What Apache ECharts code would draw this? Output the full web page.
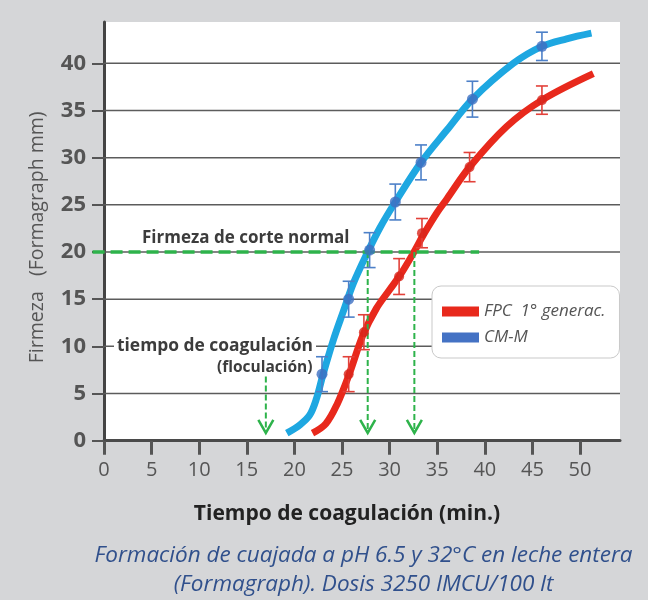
<!DOCTYPE html>
<html>
<head>
<meta charset="utf-8">
<script src="https://cdn.jsdelivr.net/npm/echarts@6/dist/echarts.min.js"></script>
<style>
  html, body { margin: 0; padding: 0; background: #d5d6d8; }
  #chart { width: 648px; height: 600px; }
</style>
</head>
<body>
<div id="chart"></div>
<script>
// ---------- data ----------
const xTicks = [0, 5, 10, 15, 20, 25, 30, 35, 40, 45, 50];
const yTicks = [0, 5, 10, 15, 20, 25, 30, 35, 40];
const gridValues = [5, 10, 15, 20, 25, 30, 35, 40];
const seriesNames = ['FPC  1° generac.', 'CM-M'];

// fitted curves
const redCurveX = [21.9, 23.3, 24.5, 25.7, 27.2, 28.6, 30.0, 31.2, 32.5, 33.6, 35.0, 36.0, 38.4, 42.3, 46.0, 51.4];
const redCurveY = [0.8, 1.8, 3.9, 6.9, 11.2, 14.0, 16.0, 17.7, 19.9, 21.9, 24.2, 25.6, 29.0, 33.3, 36.1, 38.9];
const blueCurveX = [19.2, 20.6, 21.6, 22.3, 23.0, 24.1, 25.1, 26.2, 27.7, 29.0, 30.6, 33.3, 36.0, 38.7, 43.0, 46.0, 48.6, 51.2];
const blueCurveY = [0.8, 1.7, 2.7, 4.4, 7.0, 10.7, 13.6, 16.7, 20.0, 22.6, 25.3, 29.5, 32.9, 36.2, 40.0, 41.8, 42.6, 43.2];

// measured points with error (±)
const redPointX = [25.7, 27.3, 31.0, 33.4, 38.4, 46.0];
const redPointY = [7.05, 11.5, 17.4, 22.0, 29.0, 36.1];
const redPointErr = [1.85, 1.85, 1.9, 1.55, 1.55, 1.5];
const bluePointX = [22.9, 25.7, 27.9, 30.6, 33.3, 38.7, 46.0];
const bluePointY = [7.05, 15.0, 20.2, 25.3, 29.5, 36.2, 41.8];
const bluePointErr = [1.85, 1.9, 1.85, 1.9, 1.85, 1.9, 1.5];

// annotations
const cutFirmness = 20;
const cutLineRange = [-1.2, 39.4];
const arrowX = [17.0, 27.7, 32.6];
const arrowTopY = [6.8, 20, 20];
const arrowTipY = 0.82;
const annotationTexts = ['Firmeza de corte normal', 'tiempo de coagulación', '(floculación)'];
const xAxisTitle = 'Tiempo de coagulación (min.)';
const yAxisTitle = 'Firmeza   (Formagraph mm)';
const captionLines = ['Formación de cuajada a pH 6.5 y 32°C en leche entera', '(Formagraph). Dosis 3250 IMCU/100 lt'];

// ---------- chart ----------
const F = "'Open Sans', 'DejaVu Sans', sans-serif";
const zip = (a, b) => a.map((v, i) => [v, b[i]]);
const zip3 = (a, b, c) => a.map((v, i) => [v, b[i], c[i]]);

const RED = '#e8291c', BLUE = '#1ea7e1', GREEN = '#2eb34b';

function errorBarRender(color) {
  return function (params, api) {
    const x = api.value(0), y = api.value(1), e = api.value(2);
    const top = api.coord([x, y + e]);
    const bot = api.coord([x, y - e]);
    const cw = 6;
    const st = { stroke: color, lineWidth: 1.6 };
    return {
      type: 'group',
      children: [
        { type: 'line', shape: { x1: top[0], y1: top[1], x2: bot[0], y2: bot[1] }, style: st },
        { type: 'line', shape: { x1: top[0] - cw, y1: top[1], x2: top[0] + cw, y2: top[1] }, style: st },
        { type: 'line', shape: { x1: bot[0] - cw, y1: bot[1], x2: bot[0] + cw, y2: bot[1] }, style: st }
      ]
    };
  };
}

const chart = echarts.init(document.getElementById('chart'), null, { renderer: 'canvas' });
const option = {
  backgroundColor: '#d5d6d8',
  animation: false,
  grid: { left: 104, right: 28, top: 22, bottom: 159.3, show: true, backgroundColor: '#ffffff', borderWidth: 0 },
  legend: {
    data: [
      { name: seriesNames[0], itemStyle: { color: RED } },
      { name: seriesNames[1], itemStyle: { color: '#4472c4' } }
    ],
    orient: 'vertical',
    left: 432, top: 286,
    padding: [17, 14, 12, 10],
    itemGap: 9,
    itemWidth: 37, itemHeight: 10,
    icon: 'rect',
    backgroundColor: '#ffffff',
    borderColor: '#c9c9c9', borderWidth: 1, borderRadius: 9,
    textStyle: { fontFamily: F, fontStyle: 'italic', fontSize: 17, color: '#555' }
  },
  xAxis: {
    type: 'value', min: 0, max: 54.2,
    name: xAxisTitle, nameLocation: 'middle', nameGap: 63,
    nameTextStyle: { fontFamily: F, fontWeight: 'bold', fontSize: 21, color: '#222', padding: [0, 30, 0, 0] },
    axisLine: { show: true, lineStyle: { color: '#4a4a4a', width: 3 } },
    axisTick: { show: true, customValues: xTicks, length: 14, lineStyle: { color: '#555', width: 3 } },
    axisLabel: { customValues: xTicks, fontFamily: F, fontSize: 20, color: '#555', margin: 20 },
    splitLine: { show: false }
  },
  yAxis: {
    type: 'value', min: 0, max: 44.38,
    name: yAxisTitle, nameLocation: 'middle', nameGap: 57,
    nameTextStyle: { fontFamily: F, fontSize: 19.5, color: '#555', padding: [0, 12, 0, 0] },
    axisLine: { show: true, lineStyle: { color: '#444', width: 3 } },
    axisTick: { show: true, customValues: yTicks, length: 12, lineStyle: { color: '#555', width: 2 } },
    axisLabel: { customValues: yTicks, fontFamily: F, fontWeight: 'bold', fontSize: 22, color: '#555', margin: 18 },
    splitLine: { show: false }
  },
  series: [
    {
      name: 'gridlines', type: 'custom', silent: true, z: 1,
      data: gridValues.map(v => [0, v]),
      encode: { x: 0, y: 1 },
      renderItem: function (params, api) {
        const y = api.coord([0, api.value(1)])[1];
        const cs = params.coordSys;
        return { type: 'line', shape: { x1: cs.x, y1: y, x2: cs.x + cs.width, y2: y }, style: { stroke: '#5c5c5c', lineWidth: 1.5 } };
      }
    },
    {
      name: seriesNames[0], type: 'line', z: 3,
      data: zip(redCurveX, redCurveY),
      smooth: 0.35, showSymbol: false,
      lineStyle: { color: RED, width: 7 }, itemStyle: { color: RED }
    },
    {
      name: seriesNames[1], type: 'line', z: 3,
      data: zip(blueCurveX, blueCurveY),
      smooth: 0.35, showSymbol: false,
      lineStyle: { color: BLUE, width: 7 }, itemStyle: { color: '#4472c4' }
    },
    {
      name: 'cutline', type: 'custom', silent: true, z: 4, clip: false,
      data: [[cutLineRange[0], cutLineRange[1], cutFirmness]],
      encode: { x: [0, 1], y: 2 },
      renderItem: function (params, api) {
        const a = api.coord([api.value(0), api.value(2)]);
        const b = api.coord([api.value(1), api.value(2)]);
        return { type: 'line', shape: { x1: a[0], y1: a[1], x2: b[0], y2: b[1] },
          style: { stroke: GREEN, lineWidth: 3.5, lineDash: [12, 6] } };
      }
    },
    {
      name: 'arrows', type: 'custom', silent: true, z: 4, clip: false,
      data: arrowX.map((x, i) => [x, arrowTopY[i], arrowTipY]),
      encode: { x: 0, y: [1, 2] },
      renderItem: function (params, api) {
        const t = api.coord([api.value(0), api.value(1)]);
        const b = api.coord([api.value(0), api.value(2)]);
        return {
          type: 'group',
          children: [
            { type: 'line', shape: { x1: t[0], y1: t[1], x2: b[0], y2: b[1] - 2 },
              style: { stroke: GREEN, lineWidth: 2, lineDash: [6, 3] } },
            { type: 'polyline', shape: { points: [[b[0] - 7.5, b[1] - 13], [b[0], b[1]], [b[0] + 7.5, b[1] - 13]] },
              style: { stroke: GREEN, lineWidth: 2.5, fill: null } }
          ]
        };
      }
    },
    {
      name: 'redErr', type: 'custom', z: 5, silent: true,
      data: zip3(redPointX, redPointY, redPointErr),
      encode: { x: 0, y: 1 },
      renderItem: errorBarRender('#e2413a')
    },
    {
      name: 'blueErr', type: 'custom', z: 5, silent: true,
      data: zip3(bluePointX, bluePointY, bluePointErr),
      encode: { x: 0, y: 1 },
      renderItem: errorBarRender('#4d80c8')
    },
    {
      name: 'redPts', type: 'scatter', z: 6, silent: true,
      data: zip(redPointX, redPointY), symbolSize: 10,
      itemStyle: { color: '#d8261c' }
    },
    {
      name: 'bluePts', type: 'scatter', z: 6, silent: true,
      data: zip(bluePointX, bluePointY), symbolSize: 11,
      itemStyle: { color: '#3d6fc2' }
    }
  ],
  graphic: [
    { type: 'text', z: 100, x: 142, y: 238.5,
      style: { text: annotationTexts[0], font: "bold 17px 'Open Sans', sans-serif", fill: '#3c3c3c', verticalAlign: 'middle' } },
    { type: 'text', z: 100, x: 114, y: 346,
      style: { text: annotationTexts[1], font: "bold 17.4px 'Open Sans', sans-serif", fill: '#3c3c3c', verticalAlign: 'middle',
        backgroundColor: '#ffffff', padding: [1, 3, 1, 3] } },
    { type: 'text', z: 100, x: 217, y: 368,
      style: { text: annotationTexts[2], font: "bold 15.5px 'Open Sans', sans-serif", fill: '#3c3c3c', verticalAlign: 'middle' } },
    { type: 'text', z: 100, x: 363.5, y: 556,
      style: { text: captionLines[0], font: "italic 22.5px 'Open Sans', sans-serif", fill: '#30508c', align: 'center', verticalAlign: 'middle' } },
    { type: 'text', z: 100, x: 363.5, y: 585,
      style: { text: captionLines[1], font: "italic 22.5px 'Open Sans', sans-serif", fill: '#30508c', align: 'center', verticalAlign: 'middle' } }
  ]
};
chart.setOption(option);
</script>
</body>
</html>
